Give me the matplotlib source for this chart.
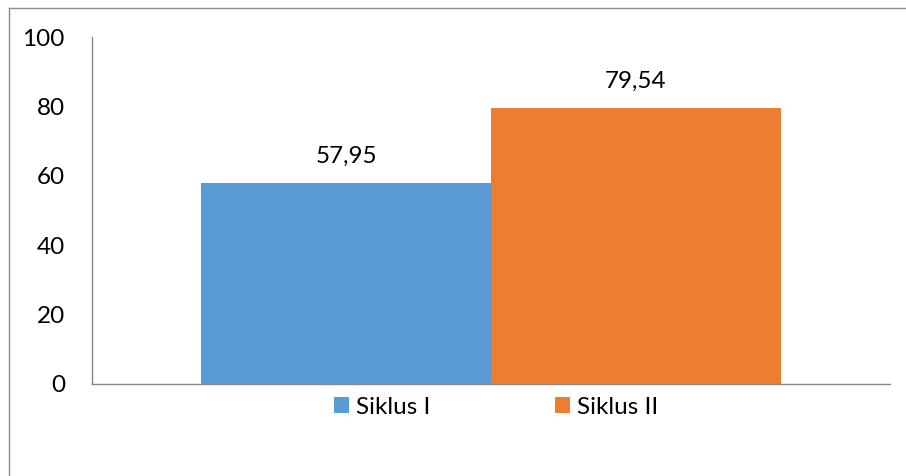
import matplotlib
matplotlib.use("Agg")
import matplotlib.pyplot as plt
from matplotlib.lines import Line2D
from matplotlib.patches import Patch

series = ["Siklus I", "Siklus II"]
values = [57.95, 79.54]
labels = ["57,95", "79,54"]
colors = ["#5B9BD5", "#ED7D31"]
yticks = [0, 20, 40, 60, 80, 100]

plt.rcParams['font.family'] = ['Lato', 'DejaVu Sans']
FS = 17.5

W, H = 906, 476
fig = plt.figure(figsize=(W / 100, H / 100), dpi=100)
ax = fig.add_axes([92 / W, (H - 384) / H, (890 - 92) / W, (384 - 37) / H])

bw = 290 / 798
xs = [-bw / 2, bw / 2]
for x, v, c, lab in zip(xs, values, colors, labels):
    ax.bar(x, v, width=bw, color=c, label=None, zorder=2)
    ax.annotate(lab, (x, v), xytext=(0, 19), textcoords="offset points",
                ha="center", va="center", fontsize=FS, color="#000000")

ax.set_xlim(-0.5, 0.5)
ax.set_ylim(0, 100)
ax.set_yticks(yticks)
ax.set_yticklabels([str(t) for t in yticks], fontsize=FS)
ax.tick_params(axis="y", length=0, pad=19.5)
ax.set_xticks([])
for s in ["top", "right"]:
    ax.spines[s].set_visible(False)
for s in ["left", "bottom"]:
    ax.spines[s].set_color("#868686")
    ax.spines[s].set_linewidth(1.0)

handles = [Patch(facecolor=c, edgecolor="none") for c in colors]
leg = fig.legend(handles, series, loc="center", bbox_to_anchor=(496 / W, 1 - 407 / H),
                 ncol=2, frameon=False, fontsize=FS, handlelength=0.62, handleheight=0.62,
                 handletextpad=0.3, columnspacing=5.1, borderpad=0)

# chart border (top and left visible)
fig.add_artist(Line2D([8.5 / W, 1.0], [1 - 7.5 / H, 1 - 7.5 / H], transform=fig.transFigure,
                      color="#8c8c8c", linewidth=1.0))
fig.add_artist(Line2D([8.5 / W, 8.5 / W], [1 - 7.5 / H, 0.0], transform=fig.transFigure,
                      color="#8c8c8c", linewidth=1.0))

fig.savefig("out.png", dpi=100)
